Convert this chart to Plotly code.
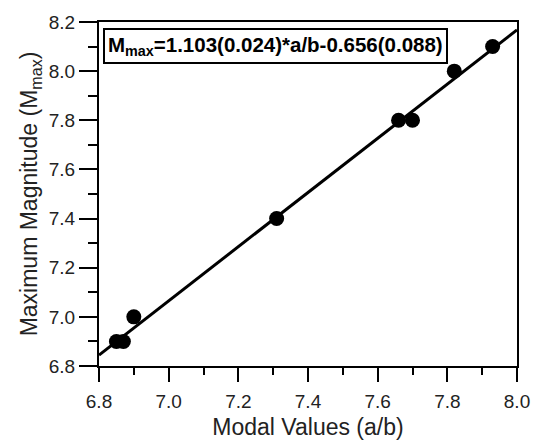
import plotly.graph_objects as go

# Data
modal_ab = [6.85, 6.87, 6.90, 7.31, 7.66, 7.70, 7.82, 7.93]
m_max = [6.90, 6.90, 7.00, 7.40, 7.80, 7.80, 8.00, 8.10]

slope = 1.103
intercept = -0.656
fit_x = [6.8, 8.0]
fit_y = [slope * v + intercept for v in fit_x]

x_ticks = [6.8, 7.0, 7.2, 7.4, 7.6, 7.8, 8.0]
y_ticks = [6.8, 7.0, 7.2, 7.4, 7.6, 7.8, 8.0, 8.2]

FONT = "Liberation Sans, Arial, sans-serif"

fig = go.Figure()
fig.add_trace(go.Scatter(x=fit_x, y=fit_y, mode="lines",
                         line=dict(color="black", width=3), showlegend=False,
                         cliponaxis=False))
fig.add_trace(go.Scatter(x=modal_ab, y=m_max, mode="markers",
                         marker=dict(color="black", size=15), showlegend=False))

fig.add_annotation(
    text="<b>M<sub>max</sub>=1.103(0.024)*a/b-0.656(0.088)</b>",
    xref="paper", yref="paper", x=0.01, y=0.982, xanchor="left", yanchor="top",
    showarrow=False, font=dict(family=FONT, size=20.5, color="black"),
    bordercolor="black", borderwidth=2, borderpad=3, bgcolor="white")

fig.update_layout(
    width=542, height=448,
    margin=dict(l=99, r=19, t=19, b=74),
    paper_bgcolor="white", plot_bgcolor="white",
    font=dict(family=FONT, color="black"),
)
fig.update_xaxes(
    range=[6.8, 8.0], tickvals=x_ticks, ticktext=[f"{v:.1f}" for v in x_ticks],
    showgrid=False, zeroline=False, showline=True, linecolor="black", linewidth=2,
    mirror=True, ticks="outside", ticklen=14, tickwidth=2, tickcolor="black",
    tickfont=dict(size=19, color="#222"), ticklabelstandoff=3,
    minor=dict(dtick=0.1, ticks="outside", ticklen=7, tickwidth=2, tickcolor="black", showgrid=False),
    title=dict(text="Modal Values (a/b)", font=dict(size=23, color="#222"), standoff=8),
)
fig.update_yaxes(
    range=[6.8, 8.2], tickvals=y_ticks, ticktext=[f"{v:.1f}" for v in y_ticks],
    showgrid=False, zeroline=False, showline=True, linecolor="black", linewidth=2,
    mirror=True, ticks="outside", ticklen=18, tickwidth=2, tickcolor="black",
    tickfont=dict(size=19, color="#222"),
    minor=dict(dtick=0.1, ticks="outside", ticklen=9, tickwidth=2, tickcolor="black", showgrid=False),
    title=dict(text="Maximum Magnitude (M<sub>max</sub>)", font=dict(size=23, color="#222"), standoff=5),
)

fig.write_html("out.html")
